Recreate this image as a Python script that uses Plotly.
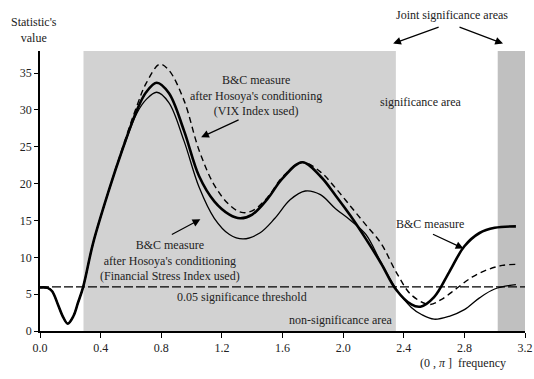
import plotly.graph_objects as go

# ---- data ----
x_bc = [0, 0.05, 0.08, 0.12, 0.15, 0.183, 0.22, 0.25, 0.285, 0.35, 0.45, 0.55, 0.64, 0.7, 0.77,
        0.85, 0.95, 1.05, 1.15, 1.25, 1.32, 1.4, 1.5, 1.6, 1.73, 1.85, 1.95, 2.05, 2.15, 2.25,
        2.35, 2.45, 2.51, 2.6, 2.7, 2.8, 2.9, 3.0, 3.14]
y_bc = [5.9, 5.85, 5.4, 3.5, 2.0, 1.0, 2.0, 3.8, 6.0, 11.9, 18.8, 25.0, 30.0, 32.4, 33.7,
        32.3, 27.2, 21.0, 17.6, 15.8, 15.3, 15.8, 17.9, 20.7, 22.9, 21.0, 18.4, 15.6, 12.5, 9.2,
        5.6, 3.6, 3.3, 4.6, 8.0, 11.5, 13.3, 14.0, 14.2]

x_vix = [0, 0.05, 0.08, 0.12, 0.15, 0.183, 0.22, 0.25, 0.285, 0.35, 0.45, 0.55, 0.64, 0.7, 0.79,
         0.85, 0.95, 1.05, 1.15, 1.25, 1.33, 1.4, 1.5, 1.6, 1.73, 1.85, 1.95, 2.05, 2.15, 2.25,
         2.35, 2.45, 2.57, 2.65, 2.75, 2.85, 2.95, 3.05, 3.14]
y_vix = [5.9, 5.85, 5.4, 3.5, 2.0, 1.0, 2.0, 3.8, 6.0, 11.9, 18.8, 25.2, 30.6, 33.6, 36.2,
         35.4, 31.3, 24.5, 19.8, 17.1, 16.1, 16.3, 18.1, 20.9, 22.9, 21.6, 19.4, 16.9, 14.4, 11.9,
         8.0, 4.9, 3.6, 4.3, 5.8, 7.3, 8.3, 8.9, 9.05]

x_fsi = [0, 0.05, 0.08, 0.12, 0.15, 0.183, 0.22, 0.25, 0.285, 0.35, 0.45, 0.55, 0.64, 0.7, 0.77,
         0.85, 0.95, 1.05, 1.15, 1.25, 1.34, 1.45, 1.55, 1.65, 1.75, 1.85, 1.95, 2.05, 2.15, 2.25,
         2.35, 2.45, 2.52, 2.6, 2.7, 2.8, 2.9, 3.0, 3.14]
y_fsi = [5.9, 5.85, 5.4, 3.5, 2.0, 1.0, 2.0, 3.8, 6.0, 11.9, 18.8, 24.9, 29.6, 31.4, 32.4,
         31.0, 25.8, 19.5, 15.3, 13.1, 12.5, 13.3, 15.3, 17.8, 19.0, 18.5, 16.6, 15.0, 13.1, 9.3,
         5.7, 3.2, 2.2, 1.6, 2.0, 2.9, 4.5, 5.7, 6.3]

threshold = 5.99
x_ticks = [0.0, 0.4, 0.8, 1.2, 1.6, 2.0, 2.4, 2.8, 3.2]
y_ticks = [0, 5, 10, 15, 20, 25, 30, 35]
sig_area = (0.287, 2.348)
joint_area = (3.02, 3.2)

FONT = "Liberation Serif, DejaVu Serif, serif"
TXT = "#222222"

fig = go.Figure()
fig.add_trace(go.Scatter(x=x_vix, y=y_vix, mode="lines", line_shape="spline",
                         line=dict(color="black", width=1.4, dash="6px,4px"), showlegend=False))
fig.add_trace(go.Scatter(x=x_fsi, y=y_fsi, mode="lines", line_shape="spline",
                         line=dict(color="black", width=1.3), showlegend=False))
fig.add_trace(go.Scatter(x=x_bc, y=y_bc, mode="lines", line_shape="spline",
                         line=dict(color="black", width=2.6), showlegend=False))
fig.add_trace(go.Scatter(x=[0, 3.2], y=[threshold, threshold], mode="lines",
                         line=dict(color="black", width=1.2, dash="9px,3px"), showlegend=False))

fig.add_shape(type="rect", xref="x", yref="y", x0=sig_area[0], x1=sig_area[1], y0=0, y1=38,
              fillcolor="#d2d2d2", line_width=0, layer="below")
fig.add_shape(type="rect", xref="x", yref="y", x0=joint_area[0], x1=joint_area[1], y0=0, y1=38,
              fillcolor="#c0c0c0", line_width=0, layer="below")

def txt(x, y, s, ref="", xa="center", size=12):
    fig.add_annotation(x=x, y=y, xref="x" if ref == "" else ref, yref="y" if ref == "" else ref,
                       text=s, showarrow=False, xanchor=xa, yanchor="middle",
                       font=dict(family=FONT, size=size, color=TXT))

def arrow(x, y, ax, ay, ref=""):
    fig.add_annotation(x=x, y=y, xref="x" if ref == "" else ref, yref="y" if ref == "" else ref,
                       ax=ax, ay=ay, text="", showarrow=True,
                       arrowhead=2, arrowsize=1.3, arrowwidth=1.2, arrowcolor="black")

txt(-0.0124, 1.075, "Statistic's<br>value", ref="paper")
txt(0.8496, 1.1303, "Joint significance areas", ref="paper")
arrow(0.7281, 1.0265, 47, -17, ref="paper")
arrow(0.9547, 1.0265, -45, -17, ref="paper")
txt(1.427, 31.9, "B&C measure<br>after Hosoya's conditioning<br>(VIX Index used)")
arrow(1.063, 26.3, 39, -18)
txt(0.855, 9.55, "B&C measure<br>after Hosoya's conditioning<br>(Financial Stress Index used)")
arrow(1.058, 15.16, -30, 16)
txt(2.515, 31.1, "significance area")
txt(2.574, 14.5, "B&C measure")
arrow(2.794, 11.2, -32, -15)
txt(1.336, 4.6, "0.05 significance threshold")
txt(1.987, 1.46, "non-significance area")
txt(0.872, -0.113, "(0 , <i>π</i> ]  frequency", ref="paper")

fig.update_layout(
    width=534, height=379,
    margin=dict(l=39.5, r=9, t=51.4, b=48.3, autoexpand=False),
    plot_bgcolor="white", paper_bgcolor="white",
    font=dict(family=FONT, size=12, color=TXT),
    xaxis=dict(range=[0, 3.2], tickvals=x_ticks, ticktext=[f"{v:.1f}" for v in x_ticks],
               showgrid=False, zeroline=False, showline=True, linecolor="black", linewidth=1.5,
               ticks="outside", ticklen=5, tickcolor="black", tickwidth=1.2, automargin=False,
               tickfont=dict(family=FONT, size=12, color=TXT)),
    yaxis=dict(range=[0, 38], tickvals=y_ticks, automargin=False,
               showgrid=False, zeroline=False, showline=True, linecolor="black", linewidth=1.8,
               ticks="outside", ticklen=4, tickcolor="black", tickwidth=1.2,
               tickfont=dict(family=FONT, size=12, color=TXT)),
)

fig.write_html("out.html")
